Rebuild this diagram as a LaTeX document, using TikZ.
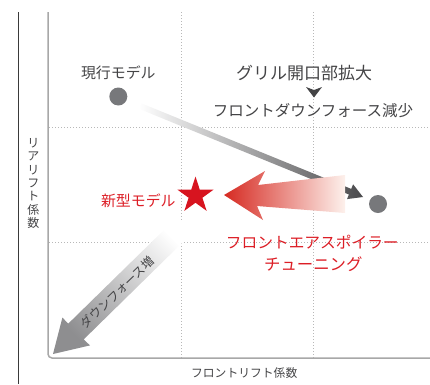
\documentclass[tikz,border=0pt]{standalone}
\usepackage{fontspec}
\setmainfont{Noto Sans CJK JP}
\usetikzlibrary{shapes.geometric}
\definecolor{txtgray}{HTML}{444446}
\definecolor{dotgray}{HTML}{77787B}
\definecolor{starred}{HTML}{D7141F}
\definecolor{redtxt}{HTML}{DC1E26}
\definecolor{gridgray}{HTML}{B8B8B8}
\definecolor{axisgray}{HTML}{A8A8A8}
\definecolor{outerline}{HTML}{3A3A3A}
\definecolor{arrowred}{HTML}{D62A22}
\definecolor{arrowsalmon}{HTML}{E98A6E}
\definecolor{arrowpale}{HTML}{FDF1EC}
\definecolor{arrowdark}{HTML}{4A4A4C}
\definecolor{arrowmid}{HTML}{8C8C8E}
\definecolor{downgray}{HTML}{8E8E90}
\tikzset{
  gridline/.style={gridgray, line width=0.8pt, dash pattern=on 1.2pt off 1.8pt},
  dotnode/.style={circle, fill=dotgray, minimum size=18pt, inner sep=0pt},
  lbl/.style={text=txtgray, inner sep=0pt, anchor=center},
  redlbl/.style={text=redtxt, inner sep=0pt, anchor=center},
}
\newcommand{\fsz}[1]{\fontsize{#1}{#1}\selectfont}
\begin{document}
\begin{tikzpicture}[x=1pt,y=-1pt]
\useasboundingbox (0,0) rectangle (430,384);
% grid
\draw[gridline] (181,12) -- (181,358);
\draw[gridline] (313,12) -- (313,358);
\draw[gridline] (49,127) -- (430,127);
\draw[gridline] (49,242) -- (430,242);
% axes
\draw[outerline, line width=1pt] (18,12) -- (18,384);
\draw[axisgray, line width=1.5pt, rounded corners=4pt] (48,12) -- (48,358) -- (430,358);
% axis labels
\node[lbl, align=center, font=\fontsize{12}{13.3}\selectfont] (ylab) at (33.3,183.5) {リ\\ア\\リ\\フ\\ト\\係\\数};
\node[lbl, font=\fsz{11.8}] (xlab) at (244.2,373.5) {フロントリフト係数};
% gray arrow current -> shifted
\shade[left color=white, middle color=arrowmid, right color=arrowdark]
  (141.1,103.2) -- (351.2,188.9) -- (353.1,184.3) -- (363,197) -- (347.0,199.1) -- (348.9,194.5) -- (138.9,108.8) -- cycle;
% red arrow
\shade[left color=arrowred, middle color=arrowsalmon, right color=arrowpale]
  (224,195) -- (265,171) -- (258,185) -- (345,175) -- (345,213) -- (257,206) -- (263,220) -- cycle;
% downforce arrow
\shade[top color=white, bottom color=downgray, shading angle=-45]
  (53,354) -- (90,345.4) -- (83.7,339.4) -- (192.7,232.5) -- (177.3,216.9) -- (68.3,323.6) -- (62.4,317.6) -- cycle;
\node[lbl, rotate=44, font=\fsz{12.2}] (dflab) at (117.5,292.5) {ダウンフォース増};
% points
\node[dotnode] (cur) at (118.3,96.5) {};
\node[dotnode] (shifted) at (378,204) {};
\node[star, star points=5, star point ratio=2.618, minimum size=38pt, inner sep=0pt, fill=starred] (newstar) at (195.5,195.5) {};
% labels
\node[lbl, font=\fsz{14.9}] (curlbl) at (118.3,72.5) {現行モデル};
\node[lbl, font=\fsz{17}] (grill) at (304,73) {グリル開口部拡大};
\node[lbl, font=\fsz{15.5}] (fdf) at (313,110.5) {フロントダウンフォース減少};
\fill[txtgray] (306,87) -- (314,90) -- (322,87) -- (314,97.5) -- cycle;
\node[redlbl, font=\fsz{14.9}] (newlbl) at (138.3,201) {新型モデル};
\node[redlbl, font=\fsz{15.7}] (spoiler) at (312.3,242) {フロントエアスポイラー};
\node[redlbl, font=\fsz{16.4}] (tuning) at (313.3,263.7) {チューニング};
\end{tikzpicture}
\end{document}
